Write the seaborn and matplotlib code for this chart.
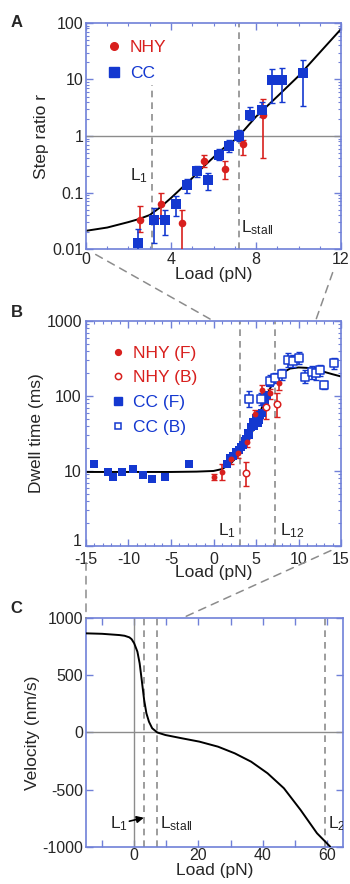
import numpy as np
import pandas as pd
import matplotlib
matplotlib.use('Agg')
import matplotlib.pyplot as plt
import matplotlib.transforms as mtransforms
from matplotlib.lines import Line2D
from matplotlib.patches import ConnectionPatch
from matplotlib.ticker import MultipleLocator, FixedLocator
import seaborn as sns

# ---- Panel A: step ratio vs load ----
a_cc_load = [2.46, 3.2, 3.7, 4.22, 4.74, 5.24, 5.74, 6.24, 6.75, 7.22, 7.73, 8.27, 8.74, 9.24, 10.23]
a_cc_r = [0.013, 0.033, 0.033, 0.063, 0.136, 0.243, 0.166, 0.46, 0.67, 1.0, 2.4, 2.9, 9.7, 9.8, 12.8]
a_cc_hi = [0.023, 0.053, 0.05, 0.088, 0.17, 0.3, 0.22, 0.58, 0.85, 1.3, 3.3, 4.0, 15.5, 16.0, 22.0]
a_cc_lo = [0.008, 0.013, 0.018, 0.038, 0.1, 0.19, 0.11, 0.37, 0.52, 0.8, 1.9, 2.2, 3.8, 4.0, 3.4]

a_nhy_load = [2.56, 3.51, 4.53, 5.54, 6.56, 7.4, 8.31]
a_nhy_r = [0.033, 0.063, 0.029, 0.366, 0.257, 0.72, 2.35]
a_nhy_hi = [0.058, 0.098, 0.05, 0.47, 0.36, 0.85, 4.5]
a_nhy_lo = [0.02, 0.035, 0.005, 0.28, 0.17, 0.47, 0.4]

a_fit_load = [0, 1, 2, 2.5, 3, 3.5, 4, 4.5, 5, 5.5, 6, 6.5, 7, 7.2, 8, 9, 10, 11, 12]
a_fit_r = [0.021, 0.024, 0.03, 0.034, 0.04, 0.055, 0.08, 0.12, 0.18, 0.28, 0.42, 0.62, 0.85, 1.0, 2.2, 5.0, 11.5, 30, 78]

# ---- Panel B: dwell time vs load ----
b_ccf_load = [-14.0, -12.4, -11.8, -10.8, -9.5, -8.3, -7.2, -5.7, -2.9,
              1.6, 1.9, 2.3, 2.6, 3.0, 3.2, 3.5, 3.7, 3.8, 4.0, 4.2, 4.4, 4.6,
              4.8, 5.0, 5.2, 5.4, 5.5, 5.7, 6.0, 6.3, 6.7, 7.4, 8.1]
b_ccf_t = [12.3, 9.8, 8.3, 9.8, 10.7, 8.9, 7.8, 8.4, 12.3,
           12.5, 14.8, 16, 18, 19, 21, 22, 25, 27, 32, 30, 39, 45,
           40, 51, 44, 48, 56, 60, 80, 103, 148, 175, 195]

b_ccb_load = [4.15, 5.6, 6.65, 7.25, 8.1, 8.75, 9.4, 10.1, 10.8, 11.55, 12.0, 12.5, 13.0, 14.2]
b_ccb_t = [91, 91, 160, 174, 195, 300, 295, 318, 180, 207, 200, 222, 140, 273]
b_ccb_hi = [115, 110, 190, 205, 230, 370, 350, 385, 220, 250, 240, 260, 160, 320]
b_ccb_lo = [72, 75, 135, 148, 165, 240, 245, 265, 150, 170, 165, 185, 122, 230]

b_nhyf_load = [0.0, 0.96, 2.0, 2.9, 3.9, 4.9, 5.75, 6.65, 7.7]
b_nhyf_t = [8.4, 9.8, 14.4, 17.2, 24, 58, 120, 108, 150]
b_nhyf_hi = [9.2, 12.5, 16.5, 19, 27, 65, 140, 125, 185]
b_nhyf_lo = [7.6, 7.5, 12.5, 15, 21, 50, 100, 92, 120]

b_nhyb_load = [3.78, 6.18, 7.43]
b_nhyb_t = [9.3, 71, 78]
b_nhyb_hi = [13, 95, 110]
b_nhyb_lo = [6.3, 50, 52]

b_fit_load = [-15, -10, -5, -2, 0, 1, 2, 3, 4, 5, 5.5, 6, 7, 8, 9, 10, 11, 12, 13, 14, 15]
b_fit_t = [9.7, 9.7, 9.7, 9.8, 10.0, 10.6, 12.5, 16.5, 25, 42, 60, 90, 150, 200, 232, 240, 237, 225, 210, 195, 182]

# ---- Panel C: velocity vs load ----
c_load = [-15, -10, -4.6, -3, -1.5, -0.8, 0, 1.0, 1.7, 2.35, 3.1, 3.8, 4.6, 5.6, 7.2,
          9.7, 14.9, 20.3, 26.1, 31.3, 36.4, 41.5, 46.6, 51.8, 56.9, 61.0]
c_vel = [866, 862, 851, 845, 831, 815, 779, 706, 604, 458, 284, 168, 94, 37, 0,
         -22, -51, -80, -124, -182, -255, -356, -487, -677, -880, -997]

L1, LSTALL, L2 = 3.1, 7.2, 59.5

RED = '#d8201e'
BLUE = '#1438d0'
SPINE = '#7080d8'
GRAY = '#8c8c8c'

sns.set_theme(style='ticks')
plt.rcParams['font.family'] = ['Liberation Sans', 'DejaVu Sans']
plt.rcParams['mathtext.default'] = 'regular'
plt.rcParams['axes.unicode_minus'] = False

fig = plt.figure(figsize=(3.5, 8.84), dpi=100)
axA = fig.add_axes([0.2457, 0.7183, 0.7286, 0.2557])
axB = fig.add_axes([0.2457, 0.3824, 0.7286, 0.2545])
axC = fig.add_axes([0.2457, 0.0419, 0.7343, 0.2590])


def style_axis(ax):
    for s in ax.spines.values():
        s.set_color(SPINE)
        s.set_linewidth(1.2)
    ax.tick_params(which='both', direction='in', top=True, right=True,
                   color=SPINE, labelsize=11.5, pad=2)
    ax.tick_params(which='major', length=5, width=1)
    ax.tick_params(which='minor', length=2.5, width=0.8)


def errbars(ax, x, y, lo, hi, color):
    y = np.array(y)
    err = [y - np.array(lo), np.array(hi) - y]
    ax.errorbar(x, y, yerr=err, fmt='none', ecolor=color, elinewidth=1.2,
                capsize=2, capthick=1.0, zorder=3)


# ---------- A ----------
ax = axA
ax.set_yscale('log')
ax.axhline(1, color=GRAY, lw=1, zorder=1)
ax.plot([L1, L1], [0.01, 8], color=GRAY, ls=(0, (4, 3)), lw=1.2, zorder=1)
ax.axvline(LSTALL, color=GRAY, ls=(0, (4, 3)), lw=1.2, zorder=1)
sns.lineplot(x=a_fit_load, y=a_fit_r, ax=ax, color='black', lw=1.4, zorder=2)
errbars(ax, a_nhy_load, a_nhy_r, a_nhy_lo, a_nhy_hi, RED)
errbars(ax, a_cc_load, a_cc_r, a_cc_lo, a_cc_hi, BLUE)
sns.scatterplot(x=a_nhy_load, y=a_nhy_r, ax=ax, color=RED, marker='o', s=30,
                edgecolor=RED, linewidth=0, zorder=4)
sns.scatterplot(x=a_cc_load, y=a_cc_r, ax=ax, color=BLUE, marker='s', s=42,
                edgecolor=BLUE, linewidth=0, zorder=5)
ax.set_xlim(0, 12)
ax.set_ylim(0.01, 100)
ax.set_xticks([0, 4, 8, 12])
ax.xaxis.set_minor_locator(MultipleLocator(1))
ax.set_yticks([0.01, 0.1, 1, 10, 100])
ax.set_yticklabels(['0.01', '0.1', '1', '10', '100'])
ax.set_xlabel('Load (pN)', fontsize=12.5, labelpad=0)
ax.set_ylabel('Step ratio r', fontsize=12.5, labelpad=2)
style_axis(ax)
ax.text(2.9, 0.2, 'L$_1$', fontsize=12.5, ha='right', va='center')
ax.text(7.3, 0.024, 'L$_{stall}$', fontsize=12.5, ha='left', va='center')
hA = [Line2D([], [], ls='none', marker='o', color=RED, ms=5.5),
      Line2D([], [], ls='none', marker='s', color=BLUE, ms=6.5)]
ax.legend(hA, ['NHY', 'CC'], loc='upper left', bbox_to_anchor=(0.05, 0.957),
          frameon=False, fontsize=12.5, handlelength=1.0, handletextpad=0.4,
          labelspacing=0.64, borderaxespad=0, labelcolor=[RED, BLUE])
fig.text(0.03, 0.974, 'A', fontsize=12, fontweight='bold', va='center')

# ---------- B ----------
ax = axB
ax.set_yscale('log')
ax.axvline(L1, color=GRAY, ls=(0, (4, 3)), lw=1.2, zorder=1)
ax.axvline(LSTALL, color=GRAY, ls=(0, (4, 3)), lw=1.2, zorder=1)
sns.lineplot(x=b_fit_load, y=b_fit_t, ax=ax, color='black', lw=1.4, zorder=2)
errbars(ax, b_ccb_load, b_ccb_t, b_ccb_lo, b_ccb_hi, BLUE)
errbars(ax, b_nhyf_load, b_nhyf_t, b_nhyf_lo, b_nhyf_hi, RED)
errbars(ax, b_nhyb_load, b_nhyb_t, b_nhyb_lo, b_nhyb_hi, RED)
sns.scatterplot(x=b_ccf_load, y=b_ccf_t, ax=ax, color=BLUE, marker='s', s=30,
                edgecolor=BLUE, linewidth=0, zorder=4)
sns.scatterplot(x=b_ccb_load, y=b_ccb_t, ax=ax, marker='s', s=26,
                facecolor='white', edgecolor=BLUE, linewidth=1.1, zorder=4)
sns.scatterplot(x=b_nhyf_load, y=b_nhyf_t, ax=ax, color=RED, marker='o', s=18,
                edgecolor=RED, linewidth=0, zorder=5)
sns.scatterplot(x=b_nhyb_load, y=b_nhyb_t, ax=ax, marker='o', s=22,
                facecolor='white', edgecolor=RED, linewidth=1.1, zorder=5)
ax.set_xlim(-15, 15)
ax.set_ylim(1, 1000)
ax.set_xticks([-15, -10, -5, 0, 5, 10, 15])
ax.xaxis.set_minor_locator(MultipleLocator(1))
ax.set_yticks([1, 10, 100, 1000])
ax.set_yticklabels(['1', '10', '100', '1000'])
ax.set_xlabel('Load (pN)', fontsize=12.5, labelpad=-1)
ax.set_ylabel('Dwell time (ms)', fontsize=12.5, labelpad=2)
style_axis(ax)
ax.tick_params(axis='x', pad=4)
ax.tick_params(axis='y', pad=3)
# lift the bottom "1" label a little so it clears the "-15" below it
lab1 = ax.get_yticklabels()[0]
lab1.set_transform(lab1.get_transform() + mtransforms.ScaledTranslation(0, 4 / 72, fig.dpi_scale_trans))
ax.text(2.7, 1.6, 'L$_1$', fontsize=12.5, ha='right', va='center')
ax.text(7.8, 1.6, 'L$_{12}$', fontsize=12.5, ha='left', va='center')
hB = [Line2D([], [], ls='none', marker='o', color=RED, ms=4.2),
      Line2D([], [], ls='none', marker='o', mfc='white', mec=RED, mew=1.1, ms=4.5),
      Line2D([], [], ls='none', marker='s', color=BLUE, ms=5.5),
      Line2D([], [], ls='none', marker='s', mfc='white', mec=BLUE, mew=1.1, ms=5)]
ax.legend(hB, ['NHY (F)', 'NHY (B)', 'CC (F)', 'CC (B)'], loc='upper left',
          bbox_to_anchor=(0.063, 0.922), frameon=False, fontsize=12.5,
          handlelength=1.0, handletextpad=0.4, labelspacing=0.55,
          borderaxespad=0, labelcolor=[RED, RED, BLUE, BLUE])
fig.text(0.03, 0.647, 'B', fontsize=12, fontweight='bold', va='center')

# ---------- C ----------
ax = axC
ax.axhline(0, color=GRAY, lw=1, zorder=1)
ax.axvline(0, color=GRAY, lw=1, zorder=1)
for xv in (L1, LSTALL, L2):
    ax.axvline(xv, color=GRAY, ls=(0, (4, 3)), lw=1.2, zorder=1)
sns.lineplot(x=c_load, y=c_vel, ax=ax, color='black', lw=1.4, zorder=3)
ax.set_xlim(-15, 65)
ax.set_ylim(-1000, 1000)
ax.set_xticks([0, 20, 40, 60])
ax.xaxis.set_minor_locator(FixedLocator([-10, 10, 30, 50]))
ax.set_yticks([-1000, -500, 0, 500, 1000])
ax.set_xlabel('Load (pN)', fontsize=12.5, labelpad=0)
ax.set_ylabel('Velocity (nm/s)', fontsize=12.5, labelpad=2)
style_axis(ax)
ax.tick_params(which='minor', length=5, width=1)
ax.tick_params(axis='x', pad=1)
ax.text(-1.8, -800, 'L$_1$', fontsize=12.5, ha='right', va='center')
ax.annotate('', xy=(3.0, -745), xytext=(-1.5, -775),
            arrowprops=dict(arrowstyle='-|>', color='black', lw=1.2,
                            mutation_scale=10, shrinkA=0, shrinkB=0))
ax.text(8.0, -800, 'L$_{stall}$', fontsize=12.5, ha='left', va='center')
ax.text(60.2, -800, 'L$_2$', fontsize=12.5, ha='left', va='center', clip_on=True)
fig.text(0.03, 0.312, 'C', fontsize=12, fontweight='bold', va='center')

# ---------- zoom connector lines ----------
def connect(axs, pa, axe, pb, shrink):
    con = ConnectionPatch(xyA=pa, coordsA=axs.transData, xyB=pb, coordsB=axe.transData,
                          color=GRAY, lw=1.1, ls=(0, (5, 4)), shrinkA=shrink, shrinkB=0)
    fig.add_artist(con)

connect(axA, (0, 0.01), axB, (0, 1000), 8)
connect(axA, (12, 0.01), axB, (12, 1000), 18)
connect(axB, (-15, 1), axC, (-15, 1000), 12)
connect(axB, (15, 1), axC, (15, 1000), 8)

fig.savefig('out.png', dpi=100)
